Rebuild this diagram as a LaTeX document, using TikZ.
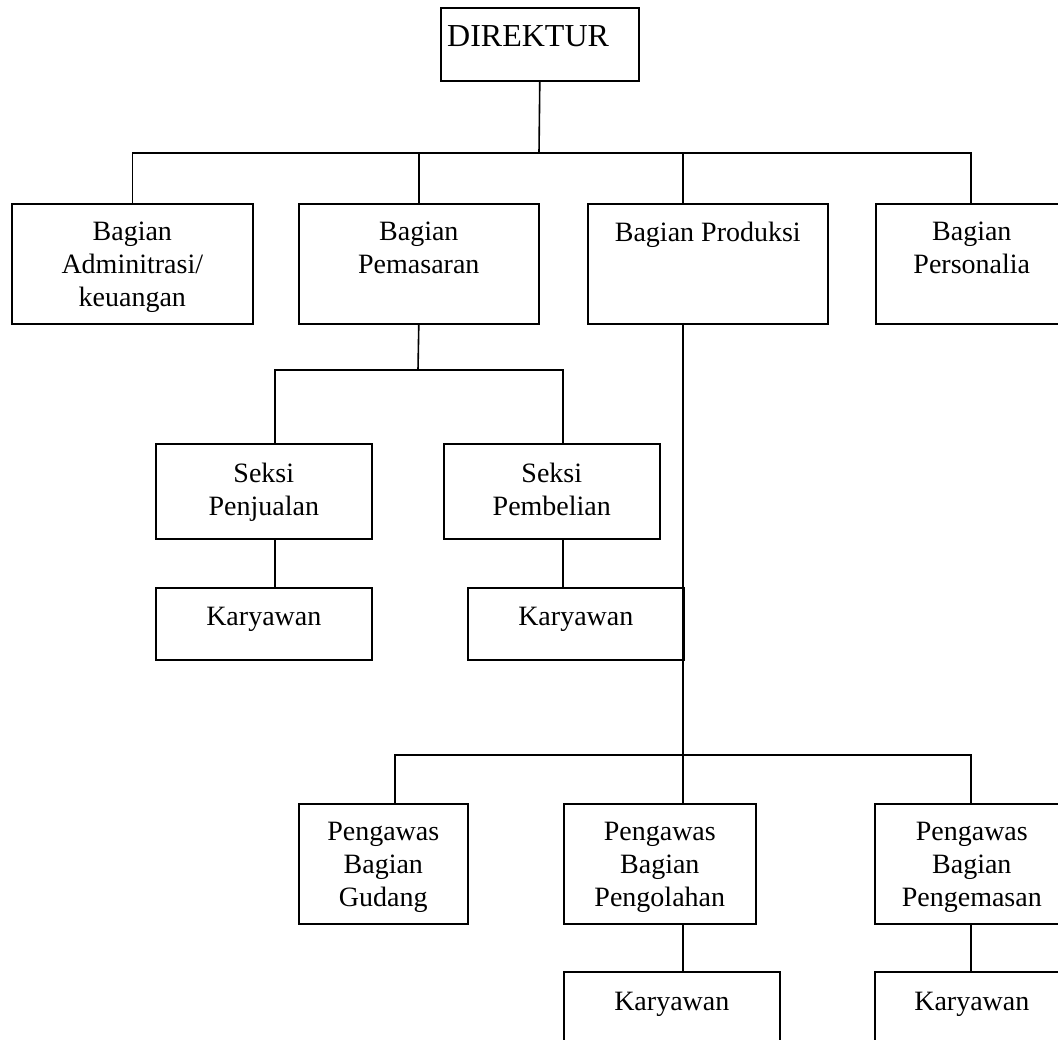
\documentclass[tikz,border=0pt]{standalone}
\usepackage{fontspec}
\setmainfont{Liberation Serif}
\usetikzlibrary{calc}
\tikzset{
  box/.style={draw, line width=1.6pt, anchor=north west, inner sep=0pt},
  txt/.style={anchor=north, inner sep=0pt, align=center, font=\fontsize{28}{33}\selectfont},
  conn/.style={draw, line width=1.6pt},
}
\begin{document}
\begin{tikzpicture}[x=1pt,y=-1pt]
\useasboundingbox (0,0) rectangle (1058,1040);
\clip (0,0) rectangle (1058,1040);
% director
\node[box, minimum width=198pt, minimum height=73pt] (dir) at (440,7) {};
\node[anchor=north west, inner sep=0pt, font=\fontsize{32}{38}\selectfont] (dirT) at ($(dir.north west)+(7,18)$) {DIREKTUR};
% row 1
\node[box, minimum width=241pt, minimum height=120pt] (adm) at (11,203) {};
\node[txt] (admT) at ($(adm.north)+(0,19)$) {Bagian\\Adminitrasi/\\keuangan};
\node[box, minimum width=240pt, minimum height=120pt] (pem) at (298,203) {};
\node[txt] (pemT) at ($(pem.north)+(0,19)$) {Bagian\\Pemasaran};
\node[box, minimum width=240pt, minimum height=120pt] (prod) at (587,203) {};
\node[txt] (prodT) at ($(prod.north)+(0,19)$) {Bagian Produksi};
\node[box, minimum width=192pt, minimum height=120pt] (pers) at (875,203) {};
\node[txt] (persT) at ($(pers.north)+(0,19)$) {Bagian\\Personalia};
% row 2
\node[box, minimum width=216pt, minimum height=95pt] (sjual) at (155,443) {};
\node[txt] (sjualT) at ($(sjual.north)+(0,20)$) {Seksi\\Penjualan};
\node[box, minimum width=216pt, minimum height=95pt] (sbeli) at (443,443) {};
\node[txt] (sbeliT) at ($(sbeli.north)+(0,20)$) {Seksi\\Pembelian};
\node[box, minimum width=216pt, minimum height=72pt] (kar1) at (155,587) {};
\node[txt] (kar1T) at ($(kar1.north)+(0,20)$) {Karyawan};
\node[box, minimum width=216pt, minimum height=72pt] (kar2) at (467,587) {};
\node[txt] (kar2T) at ($(kar2.north)+(0,20)$) {Karyawan};
% row 3
\node[box, minimum width=169pt, minimum height=120pt] (gud) at (298,803) {};
\node[txt] (gudT) at ($(gud.north)+(0,19)$) {Pengawas\\Bagian\\Gudang};
\node[box, minimum width=192pt, minimum height=120pt] (olah) at (563,803) {};
\node[txt] (olahT) at ($(olah.north)+(0,19)$) {Pengawas\\Bagian\\Pengolahan};
\node[box, minimum width=194pt, minimum height=120pt] (kemas) at (874,803) {};
\node[txt] (kemasT) at ($(kemas.north)+(0,19)$) {Pengawas\\Bagian\\Pengemasan};
% row 4
\node[box, minimum width=216pt, minimum height=100pt] (kar3) at (563,971) {};
\node[txt] (kar3T) at ($(kar3.north)+(0,21)$) {Karyawan};
\node[box, minimum width=194pt, minimum height=100pt] (kar4) at (874,971) {};
\node[txt] (kar4T) at ($(kar4.north)+(0,21)$) {Karyawan};
% junctions
\coordinate (bus1) at (539,153);
\coordinate (prodIn) at (683,203);
\coordinate (prodOut) at (683,323);
\coordinate (bus2) at (418,370);
\coordinate (sjIn) at (275,443);
\coordinate (sbIn) at (563,443);
\coordinate (bus3) at (683,755);
\coordinate (gudIn) at (395,803);
\coordinate (kemIn) at (971,803);
% connectors
\draw[conn] (dir.south) -- (bus1);
\draw[conn] (adm.north) |- (bus1) -| (kemIn |- pers.north);
\draw[conn] (pem.north) -- (pem.north |- bus1);
\draw[conn] (prodIn) -- (prodIn |- bus1);
\draw[conn] (pem.south) -- (bus2);
\draw[conn] (sjIn) |- (bus2) -| (sbIn);
\draw[conn] (sjIn |- sjual.south) -- (sjIn |- kar1.north);
\draw[conn] (sbIn |- sbeli.south) -- (sbIn |- kar2.north);
\draw[conn] (prodOut) -- (bus3);
\draw[conn] (gudIn) |- (bus3) -| (kemIn);
\draw[conn] (bus3) -- (bus3 |- olah.north);
\draw[conn] (bus3 |- olah.south) -- (bus3 |- kar3.north);
\draw[conn] (kemIn |- kemas.south) -- (kemIn |- kar4.north);
\end{tikzpicture}
\end{document}
